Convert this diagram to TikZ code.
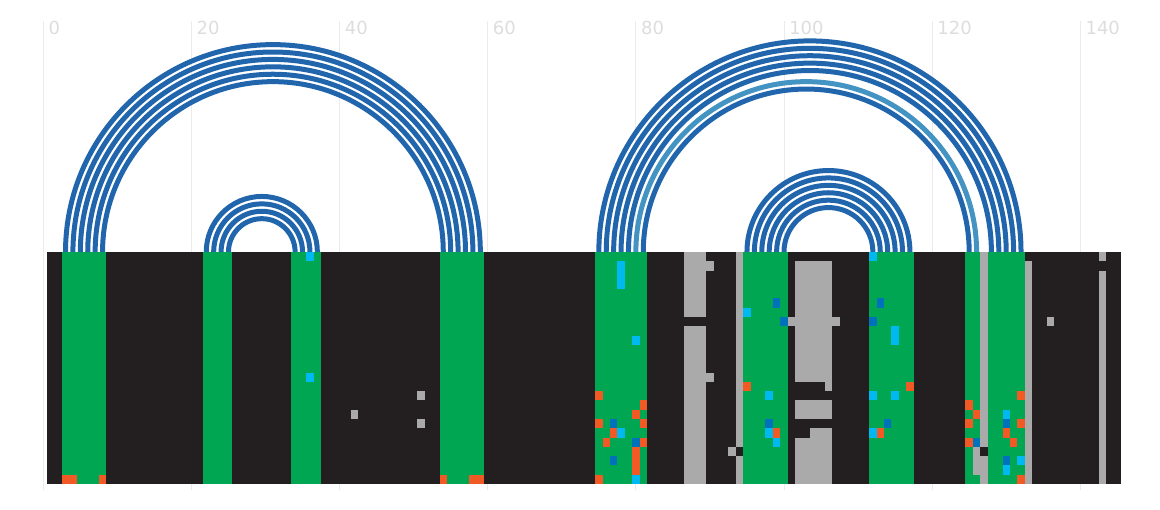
\documentclass[tikz,border=0pt]{standalone}
\usepackage{fontspec}
\setsansfont{DejaVu Sans}
\usepackage{xcolor}
\definecolor{msadark}{HTML}{231F20}
\definecolor{pairgreen}{HTML}{00A651}
\definecolor{mutorange}{HTML}{F15A24}
\definecolor{mutcyan}{HTML}{00B9F1}
\definecolor{mutblue}{HTML}{0072BC}
\definecolor{gapgray}{HTML}{AAAAAA}
\definecolor{arcblue}{HTML}{2166AC}
\definecolor{arclight}{HTML}{4393C3}
\definecolor{gridgray}{HTML}{EBEBEB}
\definecolor{ticktext}{HTML}{DDDDDD}
% block of alignment cells: columns #1..#2, rows #3..#4
\newcommand{\msablock}[5]{\fill[#5] ({43.3+7.407*(#1-0.5)},{252+9.28*#3}) rectangle ({43.3+7.407*(#2+0.5)},{252+9.28*(#4+1)});}
\tikzset{pairarc/.style={line width=3.75pt}}

\begin{document}
\begin{tikzpicture}[x=0.75pt,y=0.75pt,yscale=-1,xscale=1]
\useasboundingbox (0,0) rectangle (1160,510);

% Grid lines and tick labels
\foreach \t in {0,20,...,140} {
  \draw[gridgray, line width=0.75pt] ({43.3+7.407*\t},21) -- ({43.3+7.407*\t},490);
  \node (tick\t) [anchor=base west, inner sep=0pt, text=ticktext, font={\sffamily\fontsize{13.5}{16}\selectfont}] at ({48.3+7.407*\t},35) {\t};
}

% Alignment background
\msablock{1}{145}{0}{24}{msadark}

% Paired columns
\foreach \p/\q in {3/8,22/25,34/37,54/59,75/81,95/100,112/117,125/126,128/132}
  \msablock{\p}{\q}{0}{24}{pairgreen};

% Gaps
\foreach \p/\q/\r/\s in {87/89/0/6,87/89/8/24,90/90/1/1,90/90/13/13,94/94/0/20,93/93/21/21,94/94/22/24,
    101/107/7/7,102/106/1/13,106/106/14/14,102/106/16/17,104/106/19/19,102/106/20/24,
    127/127/0/20,127/127/22/24,126/126/21/23,133/133/1/24,136/136/7/7,143/143/0/0,143/143/2/24,
    42/42/17/17,51/51/15/15,51/51/18/18}
  \msablock{\p}{\q}{\r}{\s}{gapgray};

% Single cells
\foreach \p/\r in {36/0,36/13,78/1,78/2,78/3,80/9,78/19,80/24,95/6,98/15,98/19,99/20,112/0,115/8,115/9,
    112/15,115/15,112/19,130/17,132/22,130/23}
  \msablock{\p}{\p}{\r}{\r}{mutcyan};
\foreach \p/\r in {77/18,80/20,77/22,99/5,100/7,98/18,113/5,112/7,114/18,126/20,130/18,130/22}
  \msablock{\p}{\p}{\r}{\r}{mutblue};
\foreach \p/\r in {3/24,4/24,8/24,54/24,58/24,59/24,75/15,81/16,80/17,75/18,81/18,77/19,76/20,81/20,
    80/21,80/22,80/23,75/24,95/14,99/19,117/14,113/19,125/16,126/17,125/18,125/20,132/15,132/18,
    130/19,131/20,132/24}
  \msablock{\p}{\p}{\r}{\r}{mutorange};

% Column anchors
\foreach \c in {1,...,145}
  \coordinate (col\c) at ({43.3+7.407*\c},252);

% Arcs
\foreach \i/\j in {3/59,4/58,5/57,6/56,7/55,8/54,22/37,23/36,24/35,25/34,
    75/132,76/131,77/130,78/129,79/128,81/125,95/117,96/116,97/115,98/114,99/113,100/112}
  \draw[pairarc, arcblue] (col\i) arc[start angle=180, end angle=360, radius={7.407*(\j-\i)/2}];
\draw[pairarc, arclight] (col80) arc[start angle=180, end angle=360, radius={7.407*23}];

\end{tikzpicture}
\end{document}
